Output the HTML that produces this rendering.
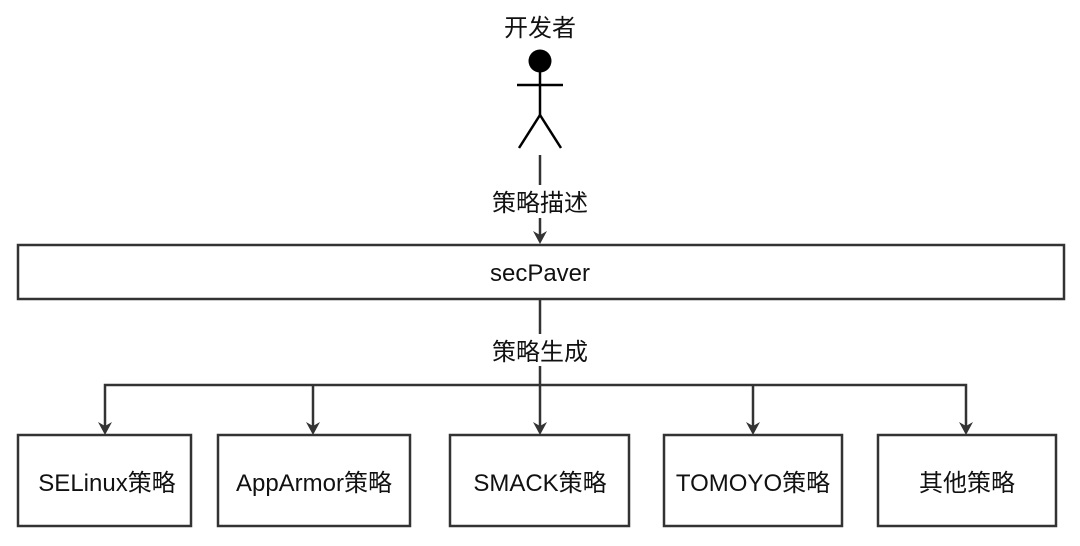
<!DOCTYPE html>
<html><head><meta charset="utf-8"><style>
html,body{margin:0;padding:0;background:#fff;}
svg text{font-family:"Liberation Sans","Noto Sans CJK SC",sans-serif;font-size:24px;fill:#111;}
</style></head><body>
<svg width="1080" height="541" viewBox="0 0 1080 541" xmlns="http://www.w3.org/2000/svg">
<text x="540" y="36" text-anchor="middle">开发者</text>
<circle cx="540" cy="61" r="11.5" fill="#000"/>
<g stroke="#000" stroke-width="2.5" fill="none">
<line x1="540" y1="70" x2="540" y2="116"/>
<line x1="517" y1="85" x2="563" y2="85"/>
<line x1="540" y1="115" x2="519" y2="148"/>
<line x1="540" y1="115" x2="561" y2="148"/>
</g>
<g stroke="#333" stroke-width="2.5" fill="none">
<line x1="540" y1="155" x2="540" y2="185"/>
<line x1="540" y1="218" x2="540" y2="236"/>
<rect x="18" y="245" width="1046" height="54" fill="#fff"/>
<line x1="540" y1="299" x2="540" y2="334"/>
<line x1="540" y1="366" x2="540" y2="428"/>
<polyline points="105,428 105,385 966,385 966,428"/>
<line x1="313" y1="385" x2="313" y2="428"/>
<line x1="753" y1="385" x2="753" y2="428"/>
<rect x="18" y="435" width="173" height="91" fill="#fff"/>
<rect x="218" y="435" width="192" height="91" fill="#fff"/>
<rect x="450" y="435" width="179" height="91" fill="#fff"/>
<rect x="664" y="435" width="178" height="91" fill="#fff"/>
<rect x="878" y="435" width="178" height="91" fill="#fff"/>
</g>
<g fill="#333">
<path d="M533,231 L540,244 L547,231 L540,235 Z"/>
<path d="M98,422 L105,435 L112,422 L105,426 Z"/>
<path d="M306,422 L313,435 L320,422 L313,426 Z"/>
<path d="M533,422 L540,435 L547,422 L540,426 Z"/>
<path d="M746,422 L753,435 L760,422 L753,426 Z"/>
<path d="M959,422 L966,435 L973,422 L966,426 Z"/>
</g>
<text x="540" y="211" text-anchor="middle">策略描述</text>
<text x="540" y="281" text-anchor="middle">secPaver</text>
<text x="540" y="360" text-anchor="middle">策略生成</text>
<text x="107" y="491" text-anchor="middle">SELinux策略</text>
<text x="314" y="491" text-anchor="middle">AppArmor策略</text>
<text x="540" y="491" text-anchor="middle">SMACK策略</text>
<text x="753" y="491" text-anchor="middle">TOMOYO策略</text>
<text x="967" y="491" text-anchor="middle">其他策略</text>
</svg>
</body></html>
